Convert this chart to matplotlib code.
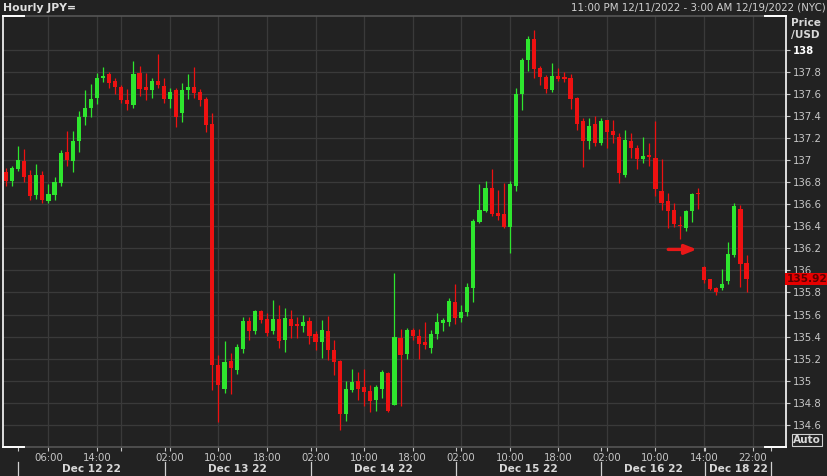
import matplotlib
matplotlib.use('Agg')
import matplotlib.pyplot as plt
import matplotlib.transforms as mtransforms

# hourly USD/JPY candles, Dec 11 23:00 -> Dec 16 17:00, then Sunday Dec 18 session
opens = [136.89, 136.81, 136.92, 136.99, 136.86, 136.68, 136.86, 136.63, 136.68, 136.79,
         137.07, 136.99, 137.17, 137.39, 137.47, 137.56, 137.74, 137.78, 137.72, 137.66,
         137.54, 137.50, 137.79, 137.66, 137.63, 137.72, 137.67, 137.55, 137.63, 137.43,
         137.63, 137.66, 137.62, 137.55, 137.33, 135.14, 134.93, 135.18, 135.10, 135.29,
         135.54, 135.45, 135.63, 135.56, 135.45, 135.56, 135.37, 135.56, 135.51, 135.50,
         135.54, 135.42, 135.35, 135.45, 135.28, 135.18, 134.70, 134.92, 135.00, 134.94,
         134.91, 134.83, 134.93, 135.07, 134.78, 135.39, 135.24, 135.46, 135.41, 135.35,
         135.30, 135.42, 135.52, 135.53, 135.71, 135.57, 135.62, 135.84, 136.44, 136.54,
         136.75, 136.52, 136.51, 136.39, 136.76, 137.60, 137.91, 138.10, 137.83, 137.75,
         137.63, 137.76, 137.75, 137.74, 137.56, 137.35, 137.17, 137.33, 137.15, 137.36,
         137.26, 137.21, 136.86, 137.17, 137.11, 137.01, 137.04, 137.02, 136.72, 136.63,
         136.55, 136.41, 136.38, 136.54, 136.70,
         136.03, 135.92, 135.84, 135.84, 135.90, 136.14, 136.56, 136.07]
highs = [136.93, 136.95, 137.13, 137.10, 136.91, 136.96, 136.90, 136.78, 136.85, 137.09,
         137.26, 137.26, 137.44, 137.63, 137.69, 137.79, 137.84, 137.80, 137.74, 137.68,
         137.64, 137.90, 137.85, 137.79, 137.74, 137.96, 137.74, 137.65, 137.65, 137.70,
         137.78, 137.84, 137.64, 137.57, 137.43, 135.23, 135.36, 135.25, 135.33, 135.58,
         135.58, 135.64, 135.64, 135.61, 135.73, 135.69, 135.66, 135.64, 135.58, 135.60,
         135.58, 135.45, 135.55, 135.59, 135.37, 135.19, 135.00, 135.11, 135.08, 135.11,
         134.96, 134.96, 135.10, 135.08, 135.98, 135.47, 135.48, 135.48, 135.47, 135.53,
         135.46, 135.61, 135.57, 135.75, 135.88, 135.69, 135.89, 136.47, 136.78, 136.81,
         136.92, 136.73, 136.79, 136.81, 137.65, 137.92, 138.12, 138.18, 137.85, 137.77,
         137.88, 137.83, 137.80, 137.78, 137.57, 137.38, 137.38, 137.40, 137.38, 137.36,
         137.36, 137.24, 137.27, 137.24, 137.14, 137.21, 137.15, 137.35, 137.01, 136.70,
         136.61, 136.49, 136.55, 136.70, 136.75,
         136.04, 135.92, 135.85, 136.01, 136.26, 136.61, 136.59, 136.14]
lows = [136.76, 136.76, 136.90, 136.80, 136.64, 136.65, 136.61, 136.61, 136.64, 136.76,
        136.95, 136.89, 137.07, 137.32, 137.39, 137.51, 137.71, 137.65, 137.60, 137.52,
        137.45, 137.47, 137.58, 137.54, 137.56, 137.65, 137.52, 137.47, 137.30, 137.34,
        137.55, 137.56, 137.49, 137.25, 134.92, 134.63, 134.89, 134.88, 135.06, 135.25,
        135.37, 135.42, 135.52, 135.41, 135.42, 135.30, 135.26, 135.39, 135.39, 135.44,
        135.33, 135.28, 135.21, 135.19, 135.05, 134.55, 134.64, 134.90, 134.83, 134.77,
        134.72, 134.73, 134.84, 134.72, 134.78, 134.77, 135.20, 135.37, 135.20, 135.29,
        135.25, 135.38, 135.45, 135.50, 135.51, 135.53, 135.59, 135.71, 136.43, 136.53,
        136.49, 136.46, 136.38, 136.16, 136.72, 137.45, 137.81, 137.74, 137.68, 137.61,
        137.62, 137.72, 137.71, 137.46, 137.27, 136.94, 137.10, 137.13, 137.14, 137.11,
        137.15, 136.79, 136.85, 137.02, 136.92, 136.97, 136.95, 136.67, 136.55, 136.38,
        136.39, 136.28, 136.36, 136.44, 136.56,
        135.89, 135.82, 135.78, 135.82, 135.88, 136.12, 135.85, 135.80]
closes = [136.81, 136.93, 137.00, 136.85, 136.67, 136.86, 136.64, 136.69, 136.80, 137.06,
          137.00, 137.17, 137.39, 137.47, 137.55, 137.74, 137.76, 137.70, 137.66, 137.54,
          137.51, 137.78, 137.64, 137.63, 137.72, 137.68, 137.55, 137.62, 137.39, 137.63,
          137.66, 137.61, 137.54, 137.32, 135.14, 134.96, 135.17, 135.12, 135.31, 135.54,
          135.45, 135.63, 135.55, 135.43, 135.56, 135.36, 135.57, 135.50, 135.50, 135.53,
          135.41, 135.35, 135.46, 135.28, 135.17, 134.70, 134.93, 134.99, 134.93, 134.90,
          134.82, 134.94, 135.08, 134.73, 135.40, 135.23, 135.46, 135.41, 135.33, 135.32,
          135.42, 135.53, 135.55, 135.72, 135.57, 135.62, 135.85, 136.45, 136.55, 136.75,
          136.51, 136.49, 136.39, 136.78, 137.60, 137.91, 138.10, 137.82, 137.75, 137.64,
          137.76, 137.73, 137.73, 137.55, 137.33, 137.17, 137.31, 137.15, 137.35, 137.25,
          137.23, 136.88, 137.18, 137.11, 137.01, 137.04, 137.03, 136.74, 136.61, 136.54,
          136.42, 136.40, 136.54, 136.69, 136.69,
          135.91, 135.83, 135.80, 135.88, 136.15, 136.58, 136.06, 135.92]

# x axis: candle slots carrying a time label
tick_slots = [7, 15, 19, 27, 35, 43, 51, 59, 67, 75, 83, 91, 99, 107, 115, 123]
tick_labels = ['06:00', '14:00', '', '02:00', '10:00', '18:00', '02:00', '10:00',
               '18:00', '02:00', '10:00', '18:00', '02:00', '10:00', '14:00', '22:00']
day_breaks = [2, 26.2, 50.2, 74.1, 98.1, 115.1, 126.1]
day_labels = ['Dec 12 22', 'Dec 13 22', 'Dec 14 22', 'Dec 15 22', 'Dec 16 22', 'Dec 18 22']

price_ticks = [134.6, 134.8, 135.0, 135.2, 135.4, 135.6, 135.8, 136.0,
               136.2, 136.4, 136.6, 136.8, 137.0, 137.2, 137.4, 137.6, 137.8, 138.0]
last_price = 135.92
arrow_from, arrow_to, arrow_price = 109.1, 113.8, 136.19

BG = '#222222'
GRID = '#3a3a3a'
UP = '#2ee62e'
DOWN = '#ee1111'
TXT = '#c8c8c8'

plt.rcParams['font.family'] = ['DejaVu Sans']

fig = plt.figure(figsize=(8.28, 4.76), dpi=100, facecolor=BG)
ax = fig.add_axes([3 / 828, 1 - 446.7 / 476, 782.7 / 828, 431 / 476], facecolor=BG)

# candles
for i in range(len(opens)):
    o, h, l, c = opens[i], highs[i], lows[i], closes[i]
    col = UP if c >= o else DOWN
    ax.vlines(i, l, h, color=col, lw=0.9, zorder=3)
    ax.bar(i, max(abs(c - o), 0.012), bottom=min(o, c), width=0.68,
           color=col, edgecolor='none', zorder=4)

ax.annotate('', xy=(arrow_to, arrow_price), xytext=(arrow_from, arrow_price),
            arrowprops=dict(arrowstyle='-|>,head_length=0.7,head_width=0.28',
                            color='#e81818', lw=2.4, shrinkA=0, shrinkB=0), zorder=5)

ax.set_xlim(-0.49, 128.45)
ax.set_ylim(134.403, 138.307)

# grid
for s in tick_slots:
    ax.axvline(s, color=GRID, lw=0.9, zorder=1)
for p in price_ticks:
    ax.axhline(p, color=GRID, lw=0.9, zorder=1)

# frame
for side in ['top', 'bottom']:
    ax.spines[side].set_visible(False)
for side in ['left', 'right']:
    ax.spines[side].set_color('white')
    ax.spines[side].set_linewidth(1.2)
for yy in [0, 1]:
    ax.plot([0, 1], [yy, yy], transform=ax.transAxes, color='#555555', lw=1.2, clip_on=False, zorder=6)
    ax.plot([0, 0.027], [yy, yy], transform=ax.transAxes, color='white', lw=1.4, clip_on=False, zorder=7)
    ax.plot([0.973, 1], [yy, yy], transform=ax.transAxes, color='white', lw=1.4, clip_on=False, zorder=7)

# right price axis
ax.yaxis.tick_right()
ax.set_yticks(price_ticks)
ax.set_yticklabels(['%g' % p for p in price_ticks])
ax.tick_params(axis='y', colors=TXT, labelsize=7.3, length=3, width=0.8, pad=2)
lab138 = ax.get_yticklabels()[-1]
lab138.set_fontweight('bold')
lab138.set_color('white')

# bottom time axis
ax.set_xticks(tick_slots)
ax.set_xticklabels(tick_labels)
ax.set_xticks(day_breaks, minor=True)
ax.tick_params(axis='x', which='major', colors=TXT, labelsize=7.3, length=3, width=0.8, pad=1.5)
ax.tick_params(axis='x', which='minor', colors=TXT, length=3, width=0.8)

xt = mtransforms.blended_transform_factory(ax.transData, fig.transFigure)
for b in day_breaks:
    ax.plot([b, b], [0.0, 1 - 462 / 476], transform=xt, color='#d0d0d0', lw=0.9, clip_on=False)
for k, lab in enumerate(day_labels):
    mid = (day_breaks[k] + day_breaks[k + 1]) / 2
    ax.text(mid, 1 - 469 / 476, lab, transform=xt, ha='center', va='center',
            fontsize=7.6, fontweight='bold', color='#d8d8d8')

# last price box (sits over the 136 label, as in the terminal)
yt = mtransforms.blended_transform_factory(fig.transFigure, ax.transData)
ax.text(807 / 828, last_price, '%.2f' % last_price, transform=yt, ha='center', va='center',
        fontsize=7.6, fontweight='bold', color='#5a0000', zorder=10,
        bbox=dict(boxstyle='square,pad=0.12', facecolor='#e60000', edgecolor='none'))

# header and corner texts
fig.text(3 / 828, 1 - 8 / 476, 'Hourly JPY=', ha='left', va='center', fontsize=7.8,
         fontweight='bold', color='#e0e0e0')
fig.text(826 / 828, 1 - 8 / 476, '11:00 PM 12/11/2022 - 3:00 AM 12/19/2022 (NYC)',
         ha='right', va='center', fontsize=7.4, color='#d0d0d0')
fig.text(791 / 828, 1 - 29 / 476, 'Price\n/USD', ha='left', va='center', fontsize=7.6,
         fontweight='bold', color='#d8d8d8', linespacing=1.3)
fig.text(807 / 828, 1 - 440 / 476, 'Auto', ha='center', va='center', fontsize=7.6,
         fontweight='bold', color='#d8d8d8',
         bbox=dict(boxstyle='square,pad=0.12', facecolor=BG, edgecolor='#d0d0d0', lw=0.8))

fig.savefig('out.png', dpi=100, facecolor=BG)
